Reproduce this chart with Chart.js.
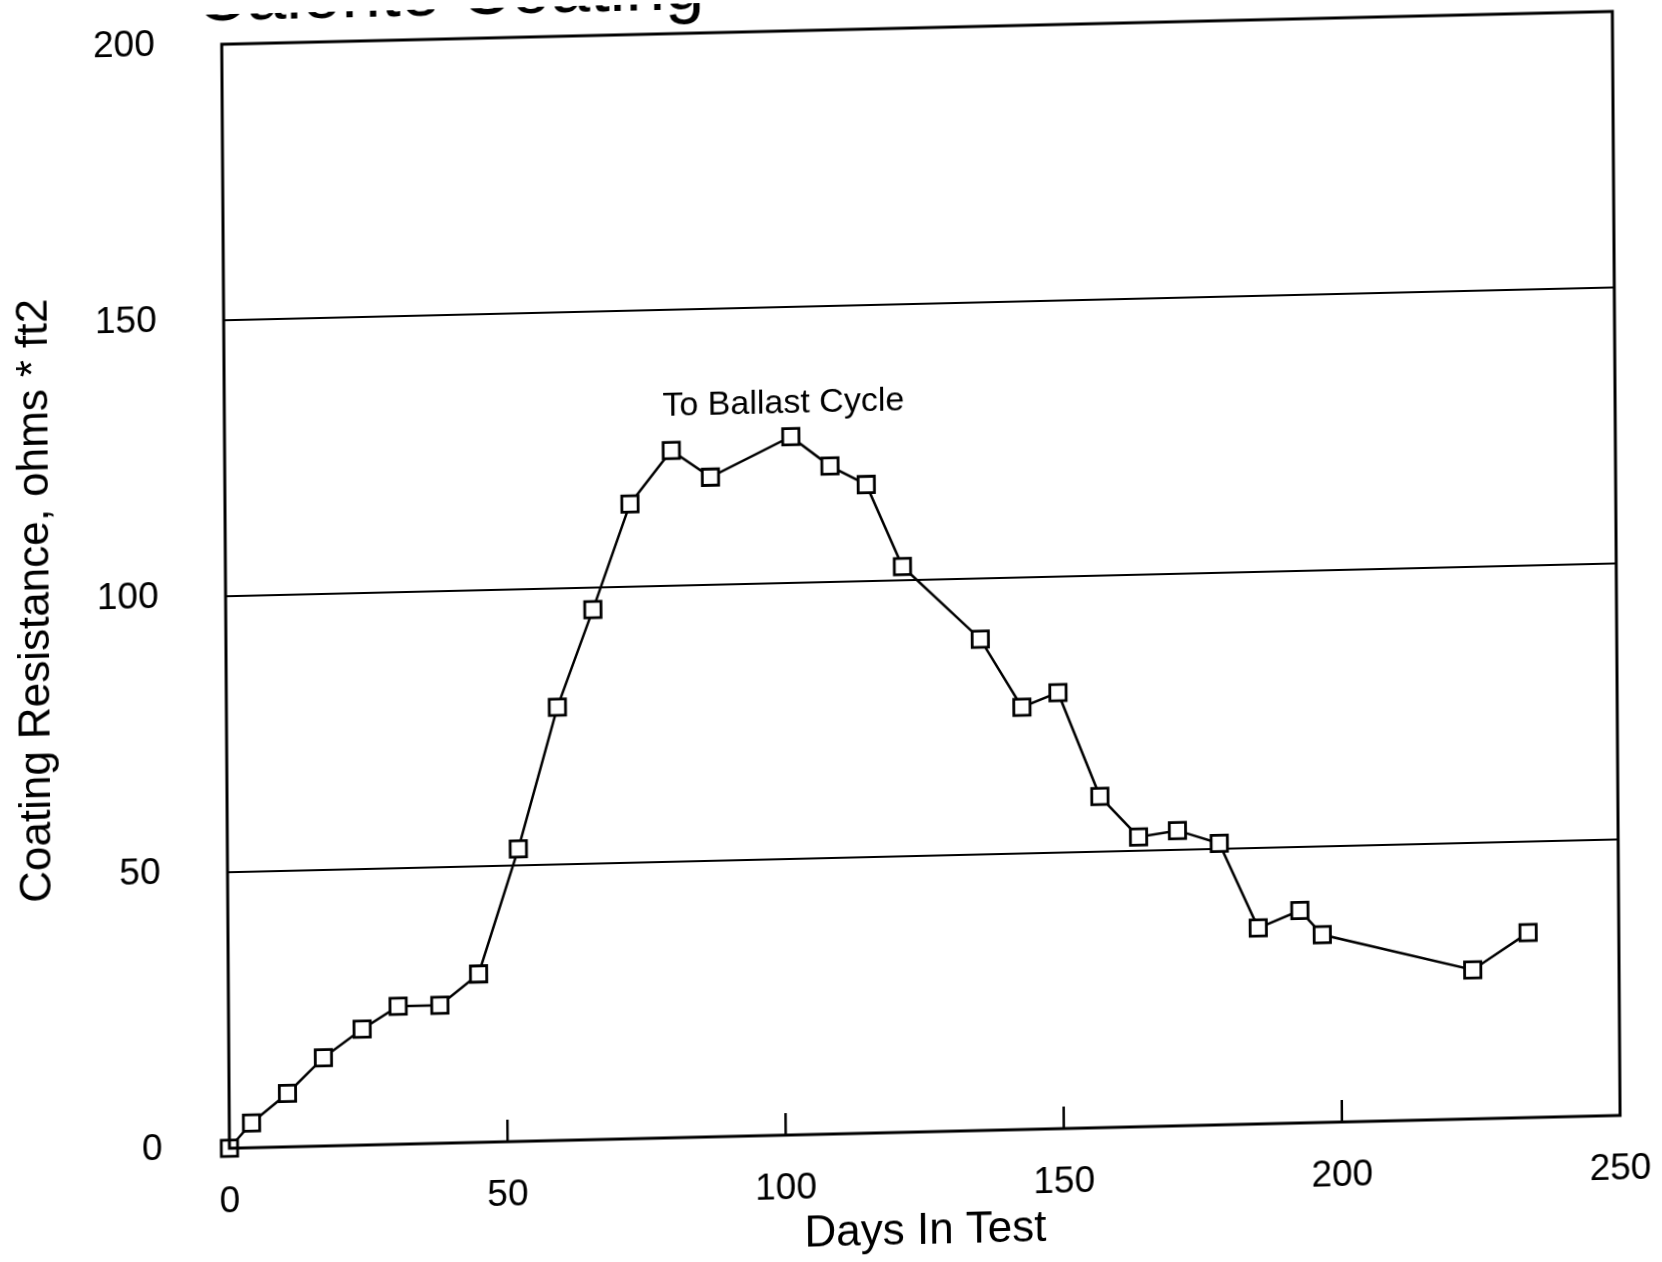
<!DOCTYPE html>
<html>
<head>
<meta charset="utf-8">
<script src="https://cdn.jsdelivr.net/npm/chart.js@4.4.1/dist/chart.umd.min.js"></script>
<style>
  html, body { margin: 0; padding: 0; background: #fff; overflow: hidden; }
  #wrap { width: 1662px; height: 1262px; position: relative; }
  /* the scan is slightly tilted: right side higher */
  #chart { display: block; transform-origin: 831px 631px; transform: matrix(1, -0.0236, 0.007, 1, 0, 0); }
</style>
</head>
<body>
<div id="wrap"><canvas id="chart" width="1662" height="1262"></canvas></div>
<script>
// --- data ---
const days = [0, 4, 10.5, 17, 24, 30.5, 38, 45, 52.3, 59.5, 66, 72.8, 80.3, 87.3, 101.8, 108.8, 115.3, 121.7,
              135.6, 143, 149.5, 156.9, 163.8, 170.8, 178.3, 185.2, 192.7, 196.7, 223.7, 233.7];
const resistance = [0, 4.5, 9.7, 16, 21, 25, 25, 30.5, 53, 78.5, 96, 115, 124.5, 119.5, 126.5, 121, 117.5, 102.5,
                    89, 76.5, 79, 60, 52.5, 53.5, 51, 35.5, 38.5, 34, 27, 33.5];
const xTicks = [0, 50, 100, 150, 200, 250];
const yTicks = [0, 50, 100, 150, 200];
const innerTicks = [50, 100, 150, 200];
const noteText = 'To Ballast Cycle';
const notePos = { x: 100.5, y: 132.5 };
const titleText = 'Calorite Coating';

const FONT = "'Liberation Sans', Arial, sans-serif";

// box around the plot, small ticks on the bottom edge, note and clipped title
const extras = {
    id: 'extras',
    afterDraw(chart) {
        const ctx = chart.ctx;
        const a = chart.chartArea;
        const xs = chart.scales.x, ys = chart.scales.y;
        ctx.save();
        ctx.strokeStyle = '#000';
        ctx.lineWidth = 3;
        ctx.strokeRect(a.left, a.top, a.right - a.left, a.bottom - a.top);

        ctx.lineWidth = 2.5;
        innerTicks.forEach(v => {
            const px = xs.getPixelForValue(v);
            ctx.beginPath();
            ctx.moveTo(px, a.bottom);
            ctx.lineTo(px, a.bottom - 22);
            ctx.stroke();
        });

        ctx.fillStyle = '#000';
        ctx.font = '34px ' + FONT;
        ctx.textAlign = 'center';
        ctx.textBaseline = 'middle';
        ctx.fillText(noteText, xs.getPixelForValue(notePos.x), ys.getPixelForValue(notePos.y));

        // page title, cut off by the top of the scan
        ctx.font = '71px ' + FONT;
        ctx.textAlign = 'left';
        ctx.textBaseline = 'alphabetic';
        ctx.fillText(titleText, 200, 6);
        ctx.restore();
    }
};

new Chart(document.getElementById('chart'), {
    type: 'line',
    data: {
        datasets: [{
            data: days.map((d, i) => ({ x: d, y: resistance[i] })),
            borderColor: '#000',
            borderWidth: 2.5,
            tension: 0,
            pointStyle: 'rect',
            pointRadius: 11.5,
            pointBorderWidth: 2.8,
            pointBackgroundColor: '#fff',
            pointBorderColor: '#000',
            clip: false
        }]
    },
    options: {
        responsive: false,
        animation: false,
        layout: { padding: { top: 30, right: 45, bottom: 0, left: 0 } },
        plugins: { legend: { display: false }, tooltip: { enabled: false } },
        scales: {
            x: {
                type: 'linear',
                min: 0,
                max: 250,
                afterBuildTicks: s => { s.ticks = xTicks.map(v => ({ value: v })); },
                afterFit: s => { s.height = 128; s.paddingLeft = 0; s.paddingRight = 0; },
                grid: { display: false, drawTicks: false },
                border: { display: false },
                ticks: { color: '#000', font: { family: FONT, size: 37 }, padding: 32, maxRotation: 0 },
                title: { display: true, text: 'Days In Test', color: '#000',
                         font: { family: FONT, size: 44 }, padding: { top: 0, bottom: 2 } }
            },
            y: {
                min: 0,
                max: 200,
                afterBuildTicks: s => { s.ticks = yTicks.map(v => ({ value: v })); },
                afterFit: s => { s.width = 226; s.paddingTop = 0; s.paddingBottom = 0; },
                grid: { color: '#000', lineWidth: 2, drawTicks: false },
                border: { display: false },
                ticks: { color: '#000', font: { family: FONT, size: 37 }, padding: 67 },
                title: { display: true, text: 'Coating Resistance, ohms * ft2', color: '#000',
                         font: { family: FONT, size: 44 }, padding: { top: 10, bottom: 0 } }
            }
        }
    },
    plugins: [extras]
});
</script>
</body>
</html>
